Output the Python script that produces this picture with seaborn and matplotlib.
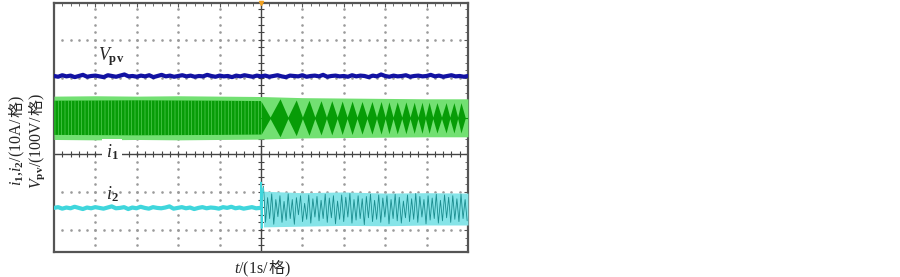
import numpy as np
import seaborn as sns
import matplotlib.pyplot as plt

# escala: 1 s/div no eixo x, valores em divisoes no eixo y
# Vpv (100V/div), amostras de -5 s a 5 s
vpv = [2.05, 2.03, 2.07, 2.04, 2.06, 2.02, 2.05, 2.08, 2.03, 2.05,
       2.06, 2.04, 2.02, 2.07, 2.05, 2.03, 2.06, 2.09, 2.04, 2.05,
       2.03, 2.06, 2.04, 2.07, 2.02, 2.05, 2.08, 2.04, 2.06, 2.03,
       2.05, 2.07, 2.04, 2.06, 2.03, 2.05, 2.04, 2.08, 2.05, 2.03,
       2.06, 2.04, 2.05, 2.02, 2.06, 2.04, 2.07, 2.05, 2.03, 2.06,
       2.04, 2.06, 2.03, 2.05, 2.07, 2.04, 2.02, 2.06, 2.05, 2.04,
       2.07, 2.03, 2.05, 2.06, 2.04, 2.08, 2.03, 2.05, 2.06, 2.04,
       2.05, 2.03, 2.07, 2.04, 2.06, 2.05, 2.02, 2.06, 2.04, 2.09,
       2.05, 2.03, 2.06, 2.04, 2.05, 2.07, 2.03, 2.05, 2.06, 2.04,
       2.05, 2.08, 2.04, 2.06, 2.03, 2.05, 2.07, 2.04, 2.05, 2.03, 2.05]

# i1: envoltoria (centro e meia largura)
i1_centro = 0.95
i1_env_t = [-5, -4, -3, -2, -1, 0, 1, 2, 3, 4, 5]
i1_claro = [0.57, 0.58, 0.57, 0.58, 0.57, 0.56, 0.53, 0.52, 0.51, 0.50, 0.50]
i1_escuro_t = [-5, -3, -1, 0]
i1_escuro = [0.45, 0.46, 0.45, 0.44]
# batimento depois de t=0: centros dos losangos e nos
losango_t = [0.46, 0.85, 1.16, 1.45, 1.71, 1.96, 2.20, 2.44, 2.68, 2.90,
             3.09, 3.29, 3.50, 3.70, 3.89, 4.06, 4.25, 4.47, 4.66, 4.83]
losango_amp = [0.50, 0.47, 0.46, 0.45, 0.45, 0.44, 0.44, 0.43, 0.43, 0.43,
               0.42, 0.42, 0.42, 0.41, 0.41, 0.41, 0.40, 0.40, 0.40, 0.40]
nos_t = [0.22, 0.65, 1.00, 1.30, 1.58, 1.84, 2.08, 2.32, 2.56, 2.79,
         3.00, 3.19, 3.40, 3.60, 3.79, 3.97, 4.15, 4.36, 4.56, 4.75, 4.93]

# i2 antes do degrau
i2_pre = [-1.42, -1.40, -1.44, -1.41, -1.43, -1.39, -1.42, -1.45, -1.41, -1.43,
          -1.40, -1.42, -1.44, -1.41, -1.38, -1.43, -1.42, -1.40, -1.45, -1.41,
          -1.43, -1.39, -1.42, -1.44, -1.40, -1.42, -1.43, -1.41, -1.38, -1.44,
          -1.42, -1.40, -1.43, -1.41, -1.45, -1.42, -1.40, -1.43, -1.41, -1.42,
          -1.44, -1.40, -1.42, -1.39, -1.43, -1.41, -1.44, -1.42, -1.40, -1.43, -1.42]
# pico em t=0
pico_t = [-0.01, 0.0, 0.015, 0.035, 0.05]
pico_v = [-1.42, -0.75, -1.95, -1.20, -0.90]
# i2 depois do degrau (oscilacao)
i2_pos = [-0.85, -1.80, -1.15, -1.70, -1.05, -1.85, -1.20, -1.65, -1.10, -1.80,
          -1.25, -1.75, -1.05, -1.70, -1.20, -1.85, -1.15, -1.60, -1.10, -1.78,
          -1.30, -1.72, -1.08, -1.82, -1.18, -1.66, -1.12, -1.76, -1.22, -1.70,
          -1.06, -1.80, -1.16, -1.68, -1.10, -1.84, -1.24, -1.72, -1.08, -1.78,
          -1.14, -1.66, -1.04, -1.82, -1.20, -1.74, -1.10, -1.70, -1.18, -1.86,
          -1.12, -1.68, -1.06, -1.78, -1.22, -1.72, -1.08, -1.80, -1.16, -1.66,
          -1.10, -1.84, -1.20, -1.70, -1.06, -1.76, -1.14, -1.82, -1.24, -1.68,
          -1.08, -1.78, -1.18, -1.72, -1.04, -1.80, -1.12, -1.66, -1.20, -1.84,
          -1.10, -1.74, -1.16, -1.70, -1.06, -1.82, -1.22, -1.76, -1.08, -1.68,
          -1.14, -1.80, -1.10, -1.72, -1.18, -1.78, -1.06, -1.70, -1.20, -1.76]
i2_banda_t = [0.06, 1, 2, 3, 4, 5]
i2_banda_sup = [-0.98, -1.02, -1.00, -1.03, -1.02, -1.03]
i2_banda_inf = [-1.92, -1.90, -1.88, -1.89, -1.87, -1.87]

azul = '#1212a2'
verde_escuro = '#079c07'
verde_claro = '#72e072'
ciano = '#3fd6dc'
ciano_escuro = '#1a8c8e'
moldura = '#555555'

sns.set_style('white')
plt.rcParams['font.family'] = ['Liberation Serif', 'Noto Sans CJK SC', 'DejaVu Sans']
plt.rcParams['mathtext.fontset'] = 'custom'
plt.rcParams['mathtext.rm'] = 'Liberation Serif'
plt.rcParams['mathtext.it'] = 'Liberation Serif:italic'
plt.rcParams['mathtext.bf'] = 'Liberation Serif:bold'
plt.rcParams['hatch.linewidth'] = 0.35

fig = plt.figure(figsize=(9, 2.77), dpi=100)
ax = fig.add_axes([54 / 900, 25 / 277, 414 / 900, 249 / 277])
ax.set_xlim(-5, 5)
ax.set_ylim(-2.58, 3.97)

# grade pontilhada
for gx in range(-4, 5):
    if gx == 0:
        continue
    yy = np.arange(-2.4, 3.97, 0.2)
    ax.plot([gx] * len(yy), yy, ls='none', marker='s', ms=0.8, color='#9a9a9a', zorder=1)
for gy in [-2, -1, 1, 2, 3]:
    xx = np.arange(-4.8, 5.0, 0.2)
    ax.plot(xx, [gy] * len(xx), ls='none', marker='s', ms=0.8, color='#9a9a9a', zorder=1)

# eixos centrais com marcas
ax.axhline(0, color='#444444', lw=1.0, zorder=2)
ax.axvline(0, color='#444444', lw=1.0, zorder=2)
mx = np.arange(-4.8, 5.0, 0.2)
ax.plot(mx, np.zeros(len(mx)), ls='none', marker='|', ms=5, mew=0.8, color='#444444', zorder=2)
my = np.arange(-2.4, 3.97, 0.2)
ax.plot(np.zeros(len(my)), my, ls='none', marker='_', ms=5, mew=0.8, color='#444444', zorder=2)

# Vpv
t_vpv = np.linspace(-5, 5, len(vpv))
sns.lineplot(x=t_vpv, y=vpv, ax=ax, color=azul, lw=3.0, sort=False, zorder=4)

# i1
ci = np.array(i1_claro)
ax.fill_between(i1_env_t, i1_centro - ci, i1_centro + ci, color=verde_claro, lw=0, zorder=3)
ce = np.array(i1_escuro)
ax.fill_between(i1_escuro_t, i1_centro - ce, i1_centro + ce, facecolor=verde_escuro,
                edgecolor=verde_claro, hatch='|||||', lw=0, zorder=3)
bt = [0.0] + sorted(losango_t + nos_t)
bw = [0.44]
for tt in bt[1:]:
    if tt in losango_t:
        bw.append(losango_amp[losango_t.index(tt)])
    else:
        bw.append(0.02)
bw = np.array(bw)
ax.fill_between(bt, i1_centro - bw, i1_centro + bw, color=verde_escuro, lw=0, zorder=3)
ax.plot([0, 5], [i1_centro, i1_centro], color=verde_escuro, lw=0.8, zorder=3)

# i2
t_pre = np.linspace(-5, -0.02, len(i2_pre))
sns.lineplot(x=t_pre, y=i2_pre, ax=ax, color=ciano, lw=3.0, sort=False, zorder=4)
ax.fill_between(i2_banda_t, i2_banda_inf, i2_banda_sup, color='#86e4e8', lw=0, zorder=3)
t_pos = np.linspace(0.06, 4.98, len(i2_pos))
sns.lineplot(x=t_pos, y=i2_pos, ax=ax, color=ciano_escuro, lw=0.6, sort=False, zorder=4)
sns.lineplot(x=pico_t, y=pico_v, ax=ax, color=ciano, lw=1.2, sort=False, zorder=4)

# marcador de disparo
ax.plot([0], [3.97], marker='v', ms=3, color='#f0a020', clip_on=False, zorder=6)

# rotulos das curvas
ax.text(-3.62, 2.55, r'$V_\mathbf{pv}$', fontsize=13, ha='center', va='center', zorder=7)
ax.text(-3.6, 0.05, r'$i_\mathbf{1}$', fontsize=13, ha='center', va='center', zorder=7,
        bbox=dict(facecolor='white', edgecolor='none', pad=2.5))
ax.text(-3.6, -1.05, r'$i_\mathbf{2}$', fontsize=13, ha='center', va='center', zorder=7)

# moldura e marcas
ax.set_xticks(range(-5, 6))
ax.set_yticks(range(-2, 4))
ax.set_xticks(np.arange(-5, 5.01, 0.2), minor=True)
ax.set_yticks(np.arange(-2.4, 3.97, 0.2), minor=True)
ax.tick_params(which='both', direction='in', top=True, right=True, labelbottom=False,
               labelleft=False, color=moldura)
ax.tick_params(which='major', length=3, width=0.8)
ax.tick_params(which='minor', length=2, width=0.6)
for s in ax.spines.values():
    s.set_color(moldura)
    s.set_linewidth(1.6)
ax.set_xlabel('')
ax.set_ylabel('')

# rotulos dos eixos em partes (mathtext nao tem o glifo chines)
W, H = 900, 277
renderer = fig.canvas.get_renderer()


def texto_partes(cx, cy, partes, rot):
    # cx, cy: centro em pixels (origem em baixo a esquerda); linha de base fixa
    objs = []
    for p in partes:
        objs.append(fig.text(0, 0, p, fontsize=11.5, rotation=rot, rotation_mode='anchor',
                             ha='left', va='baseline'))
    tams = []
    for o in objs:
        bb = o.get_window_extent(renderer)
        tams.append(bb.height if rot == 90 else bb.width)
    pos = (cy if rot == 90 else cx) - sum(tams) / 2
    for o, tam in zip(objs, tams):
        if rot == 90:
            o.set_position((cx / W, pos / H))
        else:
            o.set_position((pos / W, cy / H))
        pos += tam


texto_partes(262, 277 - 273, [r'$t$/(1s/', '格', ')'], 0)
texto_partes(21, 277 - 141, [r'$i_\mathbf{1}$,$i_\mathbf{2}$/(10A/', '格', ')'], 90)
texto_partes(41, 277 - 141, [r'$V_\mathbf{pv}$/(100V/', '格', ')'], 90)

fig.savefig('out.png', dpi=100)
